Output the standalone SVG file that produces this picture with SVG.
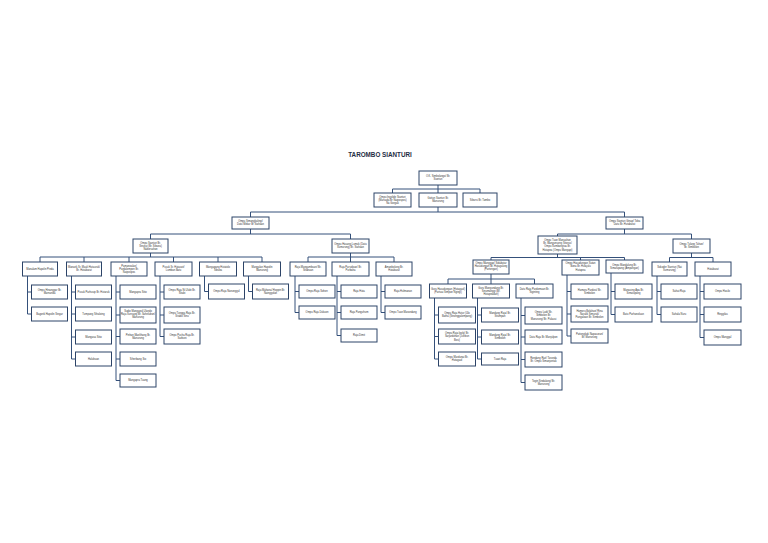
<svg xmlns="http://www.w3.org/2000/svg" width="768" height="543" viewBox="0 0 768 543">
<style>
.b{fill:#fff;stroke:#2d4468;stroke-width:1}
.t{font-family:"Liberation Sans",Arial,sans-serif;font-size:2.6px;fill:#333;text-anchor:middle}
.c{stroke:#34507a;stroke-width:1;fill:none}
.ti{font-family:"Liberation Sans",Arial,sans-serif;font-size:6.3px;font-weight:bold;fill:#1f2d44;text-anchor:middle}
</style>
<rect width="768" height="543" fill="#fff"/>
<text class="ti" x="380" y="157">TAROMBO SIANTURI</text>
<g id="connectors" class="c">
<path d="M438,185V189M392.5,193V189H480V193M438,189V193"/>
<path d="M438,207V212M250.5,217V212H624.5V217"/>
<path d="M250.5,229V234M150.5,239V234H350.5V239"/>
<path d="M150.5,253V257M40,262V257H262V262M84,257V262M129,257V262M173.5,257V262M218,257V262"/>
<path d="M350.5,253V257M308,262V257H394V262M350.5,257V262"/>
<path d="M624.5,229V234M557.5,236V234H691.5V239"/>
<path d="M557.5,254V257.5M491,260V257.5H624.5V260M580.5,257.5V260"/>
<path d="M691.5,253V257.5M669.5,262V257.5H713V262"/>
<path d="M491,274V279M448,284V279H534.5V284M491,279V284"/>
<path d="M27.5,276V314M27.5,292H31.5M27.5,314H31.5"/>
<path d="M71.5,276V359M71.5,292H75.5M71.5,314H75.5M71.5,337H75.5M71.5,359H75.5"/>
<path d="M116,276V380.5M116,292H120M116,315H120M116,336.5H120M116,359H120M116,380.5H120"/>
<path d="M160,276V336.5M160,292H164M160,315H164M160,336.5H164"/>
<path d="M204.5,276V291.5H208.5"/>
<path d="M248.5,276V291.5H252.5"/>
<path d="M295,276V312.5M295,291.5H299M295,312.5H299"/>
<path d="M337,276V335.5M337,291.5H341M337,312.5H341M337,335.5H341"/>
<path d="M381,276V312.5M381,291.5H385M381,312.5H385"/>
<path d="M434.5,298V359M434.5,315H438.5M434.5,336.5H438.5M434.5,359H438.5"/>
<path d="M477.5,298V359M477.5,315H481.5M477.5,337H481.5M477.5,359H481.5"/>
<path d="M521,298V382.5M521,315.5H525M521,337H525M521,359.5H525M521,382.5H525"/>
<path d="M567,275V336M567,291.5H571M567,314H571M567,336H571"/>
<path d="M611,273V314.5M611,291.5H615M611,314.5H615"/>
<path d="M657,276V314.5M657,291.5H661M657,314.5H661"/>
<path d="M700,276V337.5M700,291.5H704M700,314.5H704M700,337.5H704"/>
</g>
<g id="root"><rect class="b" x="419" y="171" width="38" height="14"/><text class="t"><tspan x="438" y="177.35">O.K. Simbolango/ Br.</tspan><tspan x="438" y="180.45">Sianturi</tspan></text></g>
<g id="n2a"><rect class="b" x="374" y="193" width="37" height="14"/><text class="t"><tspan x="392.5" y="197.8">Ompu Ingolide Sianturi</tspan><tspan x="392.5" y="200.9">(Marsada Br Naipospos)</tspan><tspan x="392.5" y="204">Na Gorgak</tspan></text></g>
<g id="n2b"><rect class="b" x="419" y="193" width="38" height="14"/><text class="t"><tspan x="438" y="199.35">Guttun Sianturi Br.</tspan><tspan x="438" y="202.45">Manurung</tspan></text></g>
<g id="n2c"><rect class="b" x="463" y="193" width="34" height="14"/><text class="t"><tspan x="480" y="200.9">Sibursi Br. Tambo</tspan></text></g>
<g id="n3a"><rect class="b" x="232" y="217" width="37" height="12"/><text class="t"><tspan x="250.5" y="222.35">Ompu Simangkalingi/</tspan><tspan x="250.5" y="225.45">Datu Mekar Br Siahaan</tspan></text></g>
<g id="n3b"><rect class="b" x="606" y="217" width="37" height="12"/><text class="t"><tspan x="624.5" y="222.35">Ompu Sianturi Ginap/ Toba</tspan><tspan x="624.5" y="225.45">Datu Br. Hutabarat</tspan></text></g>
<g id="n4a"><rect class="b" x="133" y="239" width="35" height="14"/><text class="t"><tspan x="150.5" y="243.8">Ompu Sianturi Br.</tspan><tspan x="150.5" y="246.9">Sinurat (Br. Sibuea)</tspan><tspan x="150.5" y="250">Naborsahan</tspan></text></g>
<g id="n4b"><rect class="b" x="332" y="239" width="37" height="14"/><text class="t"><tspan x="350.5" y="245.35">Ompu Hasang Lumuk (Datu</tspan><tspan x="350.5" y="248.45">Sumurung) Br. Siahaan</tspan></text></g>
<g id="a1"><rect class="b" x="22.5" y="262" width="35" height="14"/><text class="t"><tspan x="40" y="269.9">Manalam Hapolin Pinda</tspan></text></g>
<g id="a2"><rect class="b" x="66.5" y="262" width="35" height="14"/><text class="t"><tspan x="84" y="268.35">Manaek Sr. Mauli Hutauruk/</tspan><tspan x="84" y="271.45">Br. Hutabarat</tspan></text></g>
<g id="a3"><rect class="b" x="111" y="262" width="36" height="14"/><text class="t"><tspan x="129" y="266.8">Pamanoalan/</tspan><tspan x="129" y="269.9">Pardalompon Br.</tspan><tspan x="129" y="273">Naipospos</tspan></text></g>
<g id="a4"><rect class="b" x="155" y="262" width="37" height="14"/><text class="t"><tspan x="173.5" y="268.35">Pusuk Sr. Hutasoit/</tspan><tspan x="173.5" y="271.45">Lumban Batu</tspan></text></g>
<g id="a5"><rect class="b" x="199.5" y="262" width="37" height="14"/><text class="t"><tspan x="218" y="268.35">Mangapang Hutatolo</tspan><tspan x="218" y="271.45">Sibuea</tspan></text></g>
<g id="a6"><rect class="b" x="243.5" y="262" width="37" height="14"/><text class="t"><tspan x="262" y="268.35">Mangalan Hapolin</tspan><tspan x="262" y="271.45">Manurung</tspan></text></g>
<g id="b1"><rect class="b" x="290" y="262" width="36" height="14"/><text class="t"><tspan x="308" y="268.35">Raja Mangambuan/ Br.</tspan><tspan x="308" y="271.45">Sitabuan</tspan></text></g>
<g id="b2"><rect class="b" x="332" y="262" width="37" height="14"/><text class="t"><tspan x="350.5" y="268.35">Raja Parsidoan/ Br.</tspan><tspan x="350.5" y="271.45">Purbaha</tspan></text></g>
<g id="b3"><rect class="b" x="376" y="262" width="36" height="14"/><text class="t"><tspan x="394" y="268.35">Amanbolung Br.</tspan><tspan x="394" y="271.45">Hutabarat</tspan></text></g>
<g id="a1k1"><rect class="b" x="31.5" y="285" width="36" height="14"/><text class="t"><tspan x="49.5" y="291.35">Ompu Hinanggar Br.</tspan><tspan x="49.5" y="294.45">Marnanda</tspan></text></g>
<g id="a1k2"><rect class="b" x="31.5" y="307" width="36" height="14"/><text class="t"><tspan x="49.5" y="314.9">Bagonk Hapolin Singar</tspan></text></g>
<g id="a2k1"><rect class="b" x="75.5" y="285" width="36" height="14"/><text class="t"><tspan x="93.5" y="292.9">Pusuk Parhusip Br. Hutaruk</tspan></text></g>
<g id="a2k2"><rect class="b" x="75.5" y="307" width="36" height="14"/><text class="t"><tspan x="93.5" y="314.9">Tumpang Sihaloing</tspan></text></g>
<g id="a2k3"><rect class="b" x="75.5" y="330" width="36" height="14"/><text class="t"><tspan x="93.5" y="337.9">Mangasa Sitio</tspan></text></g>
<g id="a2k4"><rect class="b" x="75.5" y="352" width="36" height="14"/><text class="t"><tspan x="93.5" y="359.9">Halubuan</tspan></text></g>
<g id="a3k1"><rect class="b" x="120" y="285" width="36" height="14"/><text class="t"><tspan x="138" y="292.9">Mangapra Sitio</tspan></text></g>
<g id="a3k2"><rect class="b" x="120" y="307" width="36" height="16"/><text class="t"><tspan x="138" y="311.8">Sudio Mangapul Ulando</tspan><tspan x="138" y="314.9">Raja Sunsang Br. Sahelubun/</tspan><tspan x="138" y="318">Manurung</tspan></text></g>
<g id="a3k3"><rect class="b" x="120" y="329" width="36" height="15"/><text class="t"><tspan x="138" y="335.85">Pinhan Maelihang Br.</tspan><tspan x="138" y="338.95">Manurung</tspan></text></g>
<g id="a3k4"><rect class="b" x="120" y="352" width="36" height="14"/><text class="t"><tspan x="138" y="359.9">Siherbang Sio</tspan></text></g>
<g id="a3k5"><rect class="b" x="120" y="374" width="36" height="13"/><text class="t"><tspan x="138" y="381.4">Mangapra Tuang</tspan></text></g>
<g id="a4k1"><rect class="b" x="164" y="285" width="36" height="14"/><text class="t"><tspan x="182" y="291.35">Ompu Raja Ni Ulubi Br.</tspan><tspan x="182" y="294.45">Sitabi</tspan></text></g>
<g id="a4k2"><rect class="b" x="164" y="307" width="36" height="16"/><text class="t"><tspan x="182" y="314.35">Ompu Tungga Raja Br.</tspan><tspan x="182" y="317.45">Sitabo Sinu</tspan></text></g>
<g id="a4k3"><rect class="b" x="164" y="329" width="36" height="15"/><text class="t"><tspan x="182" y="335.85">Ompu Pucha Raja Br.</tspan><tspan x="182" y="338.95">Sarbuni</tspan></text></g>
<g id="a5k1"><rect class="b" x="208.5" y="284" width="36" height="15"/><text class="t"><tspan x="226.5" y="292.4">Ompu Raja Nanunggul</tspan></text></g>
<g id="a6k1"><rect class="b" x="252.5" y="284" width="36" height="15"/><text class="t"><tspan x="270.5" y="290.85">Raja Mahana/ Hoppin Br.</tspan><tspan x="270.5" y="293.95">Nainggolan</tspan></text></g>
<g id="b1k1"><rect class="b" x="299" y="285" width="36" height="13"/><text class="t"><tspan x="317" y="292.4">Ompu Raja Sohon</tspan></text></g>
<g id="b1k2"><rect class="b" x="299" y="306" width="36" height="13"/><text class="t"><tspan x="317" y="313.4">Ompu Raja Dukuon</tspan></text></g>
<g id="b2k1"><rect class="b" x="341" y="285" width="36" height="13"/><text class="t"><tspan x="359" y="292.4">Raja Huta</tspan></text></g>
<g id="b2k2"><rect class="b" x="341" y="306" width="36" height="13"/><text class="t"><tspan x="359" y="313.4">Raja Panguhum</tspan></text></g>
<g id="b2k3"><rect class="b" x="341" y="329" width="36" height="13"/><text class="t"><tspan x="359" y="336.4">Raja Dimit</tspan></text></g>
<g id="b3k1"><rect class="b" x="385" y="285" width="36" height="13"/><text class="t"><tspan x="403" y="292.4">Raja Hulmanan</tspan></text></g>
<g id="b3k2"><rect class="b" x="385" y="306" width="36" height="13"/><text class="t"><tspan x="403" y="313.4">Ompu Tuan Marandang</tspan></text></g>
<g id="n4c"><rect class="b" x="538" y="236" width="39" height="18"/><text class="t"><tspan x="557.5" y="241.25">Ompu Tuan Manuahan</tspan><tspan x="557.5" y="244.35">Br. Mangunsong Sitorus/</tspan><tspan x="557.5" y="247.45">Ompu Sumbangtua Br.</tspan><tspan x="557.5" y="250.55">Hutapea (Ompu Mangapi)</tspan></text></g>
<g id="n4d"><rect class="b" x="673" y="239" width="37" height="14"/><text class="t"><tspan x="691.5" y="245.35">Ompu Tulang Tahan/</tspan><tspan x="691.5" y="248.45">Br. Simbolon</tspan></text></g>
<g id="c1"><rect class="b" x="473" y="260" width="36" height="14"/><text class="t"><tspan x="491" y="263.8">Ompu Manggap/ Sidabutar</tspan><tspan x="491" y="266.9">Hasudungan Br. Hutagalung</tspan><tspan x="491" y="270">(Partongan)</tspan></text></g>
<g id="c2"><rect class="b" x="562" y="260" width="37" height="15"/><text class="t"><tspan x="580.5" y="264.3">Ompu Hasudungan Sutan</tspan><tspan x="580.5" y="267.4">Bona Br. Hutajulu</tspan><tspan x="580.5" y="270.5">Hutapea</tspan></text></g>
<g id="c3"><rect class="b" x="606" y="260" width="37" height="13"/><text class="t"><tspan x="624.5" y="265.85">Ompu Mandalung Br.</tspan><tspan x="624.5" y="268.95">Simatupang (Ampangan)</tspan></text></g>
<g id="d1"><rect class="b" x="652" y="262" width="35" height="14"/><text class="t"><tspan x="669.5" y="268.35">Sokoder Sianturi (Nai</tspan><tspan x="669.5" y="271.45">Sumurung)</tspan></text></g>
<g id="d2"><rect class="b" x="695" y="262" width="36" height="14"/><text class="t"><tspan x="713" y="269.9">Hutabarat</tspan></text></g>
<g id="e1"><rect class="b" x="429.5" y="284" width="37" height="14"/><text class="t"><tspan x="448" y="290.35">Guru Hasudungan (Hutagaol)</tspan><tspan x="448" y="293.45">(Partuai Simpan Ngingi)</tspan></text></g>
<g id="e2"><rect class="b" x="472.5" y="284" width="37" height="14"/><text class="t"><tspan x="491" y="288.8">Guru Mangundang Br.</tspan><tspan x="491" y="291.9">Sinumanggi (Br.</tspan><tspan x="491" y="295">Hutapeadan)</tspan></text></g>
<g id="e3"><rect class="b" x="516" y="284" width="37" height="14"/><text class="t"><tspan x="534.5" y="290.35">Datu Raja Pardomuan Br.</tspan><tspan x="534.5" y="293.45">Siginting</tspan></text></g>
<g id="e1k1"><rect class="b" x="438.5" y="307" width="37" height="16"/><text class="t"><tspan x="457" y="314.35">Ompu Raja Hutur (Ulo</tspan><tspan x="457" y="317.45">Batha (Sinonggalompang)</tspan></text></g>
<g id="e1k2"><rect class="b" x="438.5" y="329" width="37" height="15"/><text class="t"><tspan x="457" y="334.3">Ompu Raja Ipoly/ Br.</tspan><tspan x="457" y="337.4">Sarjardohan (Juribun</tspan><tspan x="457" y="340.5">Bosi)</tspan></text></g>
<g id="e1k3"><rect class="b" x="438.5" y="352" width="37" height="14"/><text class="t"><tspan x="457" y="358.35">Ompu Mardunai Br.</tspan><tspan x="457" y="361.45">Hutagaol</tspan></text></g>
<g id="e2k1"><rect class="b" x="481.5" y="308" width="37" height="14"/><text class="t"><tspan x="500" y="314.35">Mandang Raja/ Br.</tspan><tspan x="500" y="317.45">Situmpan</tspan></text></g>
<g id="e2k2"><rect class="b" x="481.5" y="330" width="37" height="14"/><text class="t"><tspan x="500" y="336.35">Mandang Raja/ Br.</tspan><tspan x="500" y="339.45">Simbolon</tspan></text></g>
<g id="e2k3"><rect class="b" x="481.5" y="353" width="37" height="12"/><text class="t"><tspan x="500" y="359.9">Tuaot Raja</tspan></text></g>
<g id="e3k1"><rect class="b" x="525" y="307" width="37" height="17"/><text class="t"><tspan x="543.5" y="313.3">Ompu Ludi/ Br.</tspan><tspan x="543.5" y="316.4">Simbolon Br.</tspan><tspan x="543.5" y="319.5">Manurung/ Br. Pulausi</tspan></text></g>
<g id="e3k2"><rect class="b" x="525" y="330" width="37" height="14"/><text class="t"><tspan x="543.5" y="337.9">Datu Raja Br. Manjulpon</tspan></text></g>
<g id="e3k3"><rect class="b" x="525" y="352" width="37" height="15"/><text class="t"><tspan x="543.5" y="358.85">Rondang Rait/ Tarunda</tspan><tspan x="543.5" y="361.95">Br. Ompu Simanjuntak</tspan></text></g>
<g id="e3k4"><rect class="b" x="525" y="375" width="37" height="15"/><text class="t"><tspan x="543.5" y="381.85">Togin Sindalang/ Br.</tspan><tspan x="543.5" y="384.95">Manurung</tspan></text></g>
<g id="c2k1"><rect class="b" x="571" y="284" width="37" height="15"/><text class="t"><tspan x="589.5" y="290.85">Hamoru Pardosi/ Br.</tspan><tspan x="589.5" y="293.95">Simbolon</tspan></text></g>
<g id="c2k2"><rect class="b" x="571" y="306" width="37" height="16"/><text class="t"><tspan x="589.5" y="311.8">Hamoru Bolahan/ Rina</tspan><tspan x="589.5" y="314.9">Naralik Simuruk/</tspan><tspan x="589.5" y="318">Pangaloan Br. Simbolon</tspan></text></g>
<g id="c2k3"><rect class="b" x="571" y="329" width="37" height="14"/><text class="t"><tspan x="589.5" y="335.35">Pattongkok Napasoran/</tspan><tspan x="589.5" y="338.45">Br. Manurung</tspan></text></g>
<g id="c3k1"><rect class="b" x="615" y="284" width="37" height="15"/><text class="t"><tspan x="633.5" y="290.85">Manasing Apa Br.</tspan><tspan x="633.5" y="293.95">Simatupang</tspan></text></g>
<g id="c3k2"><rect class="b" x="615" y="307" width="37" height="15"/><text class="t"><tspan x="633.5" y="315.4">Batu Parhanoluan</tspan></text></g>
<g id="d1k1"><rect class="b" x="661" y="284" width="36" height="15"/><text class="t"><tspan x="679" y="292.4">Sahat Raja</tspan></text></g>
<g id="d1k2"><rect class="b" x="661" y="307" width="36" height="15"/><text class="t"><tspan x="679" y="315.4">Sahala Nuru</tspan></text></g>
<g id="d2k1"><rect class="b" x="704" y="284" width="37" height="15"/><text class="t"><tspan x="722.5" y="292.4">Ompu Hasilo</tspan></text></g>
<g id="d2k2"><rect class="b" x="704" y="307" width="37" height="15"/><text class="t"><tspan x="722.5" y="315.4">Ringgilas</tspan></text></g>
<g id="d2k3"><rect class="b" x="704" y="330" width="37" height="15"/><text class="t"><tspan x="722.5" y="338.4">Ompu Manggal</tspan></text></g>
</svg>
